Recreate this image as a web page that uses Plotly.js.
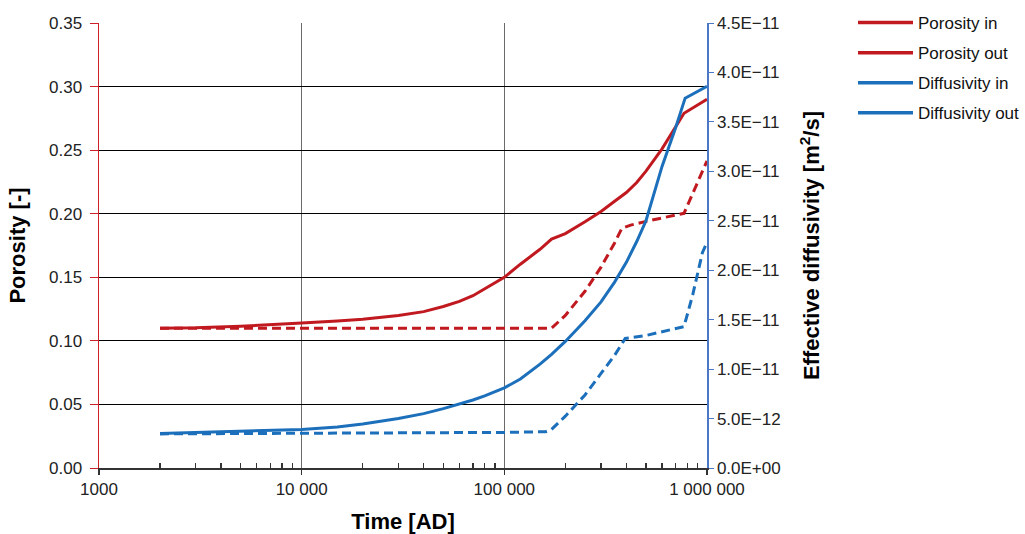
<!DOCTYPE html>
<html>
<head>
<meta charset="utf-8">
<script src="https://cdn.plot.ly/plotly-3.0.1.min.js"></script>
<style>html,body{margin:0;padding:0;background:#fff;}#chart{width:1025px;height:534px;}</style>
</head>
<body>
<div id="chart"></div>
<script>
// ---- data ----
const porosityInTime = [2000, 3000, 5000, 7000, 10000, 15000, 20000, 30000, 40000, 50000, 60000, 70000, 80000, 100000, 120000, 150000, 171000, 200000, 250000, 300000, 350000, 400000, 450000, 500000, 600000, 700000, 770000, 1000000];
const porosityIn     = [0.110, 0.1103, 0.1115, 0.1125, 0.114, 0.1157, 0.117, 0.120, 0.123, 0.127, 0.131, 0.1355, 0.141, 0.150, 0.1603, 0.172, 0.180, 0.1844, 0.1936, 0.2018, 0.2098, 0.2167, 0.2245, 0.2335, 0.251, 0.269, 0.279, 0.290];

const porosityOutTime = [2000, 171000, 200000, 250000, 300000, 350000, 380000, 420000, 500000, 770000, 1000000];
const porosityOut     = [0.110, 0.110, 0.120, 0.139, 0.158, 0.177, 0.1885, 0.191, 0.194, 0.2003, 0.2415];

const diffusivityInTime = [2000, 3000, 5000, 7000, 10000, 15000, 20000, 30000, 40000, 50000, 60000, 70000, 80000, 100000, 120000, 150000, 171000, 200000, 250000, 300000, 350000, 400000, 450000, 500000, 600000, 700000, 780000, 1000000];
const diffusivityIn     = [3.5e-12, 3.6e-12, 3.7e-12, 3.8e-12, 3.9e-12, 4.15e-12, 4.45e-12, 5.0e-12, 5.5e-12, 6.0e-12, 6.45e-12, 6.88e-12, 7.3e-12, 8.1e-12, 9.0e-12, 1.05e-11, 1.15e-11, 1.28e-11, 1.49e-11, 1.68e-11, 1.88e-11, 2.08e-11, 2.29e-11, 2.50e-11, 3.05e-11, 3.44e-11, 3.74e-11, 3.86e-11];

const diffusivityOutTime = [2000, 10000, 100000, 160000, 171000, 200000, 250000, 300000, 350000, 395000, 500000, 770000, 850000, 950000, 1000000];
const diffusivityOut     = [3.45e-12, 3.5e-12, 3.6e-12, 3.67e-12, 3.9e-12, 5.24e-12, 7.39e-12, 9.56e-12, 1.139e-11, 1.31e-11, 1.34e-11, 1.43e-11, 1.75e-11, 2.18e-11, 2.28e-11];

const seriesNames = ['Porosity in', 'Porosity out', 'Diffusivity in', 'Diffusivity out'];

const xTickVals = [1000, 10000, 100000, 1000000];
const xTickText = ['1000', '10 000', '100 000', '1 000 000'];

const y2TickVals = [0, 5e-12, 1e-11, 1.5e-11, 2e-11, 2.5e-11, 3e-11, 3.5e-11, 4e-11, 4.5e-11];
const y2TickText = ['0.0E+00', '5.0E\u221212', '1.0E\u221211', '1.5E\u221211', '2.0E\u221211', '2.5E\u221211', '3.0E\u221211', '3.5E\u221211', '4.0E\u221211', '4.5E\u221211'];

// ---- styling ----
const RED = '#c0191f';
const BLUE = '#1c6fba';
const FONT = 'Liberation Sans, Arial, sans-serif';
const TICK_SIZE = 17;
const TITLE_FONT = {size: 22, color: '#000', family: FONT, weight: 'bold'};

const minorVals = [];
for (let d = 1000; d < 1000000; d *= 10) for (let k = 2; k <= 9; k++) minorVals.push(d * k);

const traces = [
  {x: porosityInTime, y: porosityIn, mode: 'lines', line: {color: RED, width: 3}, showlegend: false, yaxis: 'y'},
  {x: porosityOutTime, y: porosityOut, mode: 'lines', line: {color: RED, width: 3, dash: '9px,5px'}, showlegend: false, yaxis: 'y'},
  {x: diffusivityInTime, y: diffusivityIn, mode: 'lines', line: {color: BLUE, width: 3}, showlegend: false, yaxis: 'y2'},
  {x: diffusivityOutTime, y: diffusivityOut, mode: 'lines', line: {color: BLUE, width: 3, dash: '9px,5px'}, showlegend: false, yaxis: 'y2'}
];
// legend entries (the reference legend shows solid keys for all series)
const legendColors = [RED, RED, BLUE, BLUE];
seriesNames.forEach((n, i) => {
  traces.push({x: [null], y: [null], mode: 'lines', name: n, legendgroup: 'g' + i,
    line: {color: legendColors[i], width: 3.5}, yaxis: i < 2 ? 'y' : 'y2'});
});

const layout = {
  width: 1025, height: 534,
  margin: {l: 99, r: 318, t: 23, b: 66},
  paper_bgcolor: '#fff', plot_bgcolor: '#fff',
  font: {family: FONT, size: TICK_SIZE, color: '#222'},
  xaxis: {
    type: 'log', range: [3, 6],
    tickvals: xTickVals, ticktext: xTickText,
    showgrid: true, gridcolor: '#6a6a6a', gridwidth: 1.5,
    showline: true, linecolor: '#333', linewidth: 1.5,
    ticks: 'outside', ticklen: 5, tickcolor: '#333', tickwidth: 1.5,
    minor: {tickvals: minorVals, ticks: 'inside', ticklen: 5, tickcolor: '#333', showgrid: false},
    zeroline: false,
    tickfont: {size: TICK_SIZE, color: '#222'},
    title: {text: 'Time [AD]', font: TITLE_FONT, standoff: 15}
  },
  yaxis: {
    range: [0, 0.35], dtick: 0.05, tickformat: '.2f',
    showgrid: true, gridcolor: '#000', gridwidth: 1,
    showline: true, linecolor: '#cc2026', linewidth: 1.5,
    ticks: 'outside', ticklen: 8, tickcolor: '#cc2026', ticklabelstandoff: 4,
    zeroline: false,
    tickfont: {size: TICK_SIZE, color: '#222'},
    title: {text: 'Porosity [-]', font: TITLE_FONT, standoff: 17}
  },
  yaxis2: {
    overlaying: 'y', side: 'right', range: [0, 4.5e-11],
    tickvals: y2TickVals, ticktext: y2TickText,
    showgrid: false, zeroline: false,
    showline: true, linecolor: '#4a78c6', linewidth: 1.5,
    ticks: 'outside', ticklen: 5, tickcolor: '#4a78c6',
    tickfont: {size: TICK_SIZE, color: '#222'},
    title: {text: 'Effective diffusivity [m<sup>2</sup>/s]', font: TITLE_FONT, standoff: 24}
  },
  legend: {
    xref: 'container', yref: 'container',
    x: 853 / 1025, xanchor: 'left', y: 1 - 5 / 534, yanchor: 'top',
    font: {size: 17, color: '#111', family: FONT},
    traceorder: 'grouped', tracegroupgap: 5,
    itemwidth: 55, bgcolor: 'rgba(0,0,0,0)'
  },
  showlegend: true
};

Plotly.newPlot('chart', traces, layout, {displayModeBar: false, staticPlot: true});
</script>
</body>
</html>
